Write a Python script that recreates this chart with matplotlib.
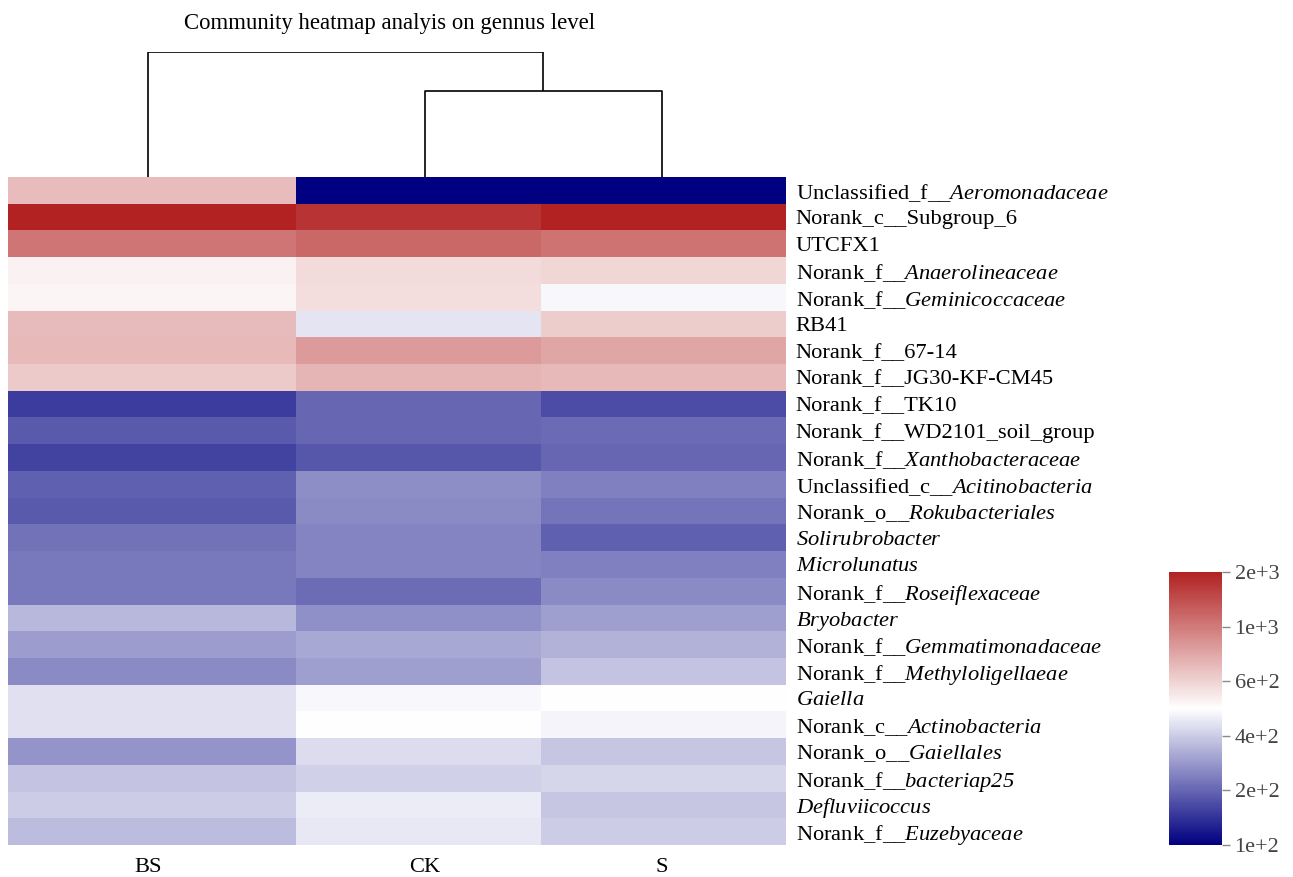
import numpy as np
import matplotlib
matplotlib.use("Agg")
import matplotlib.pyplot as plt
from matplotlib.colors import LinearSegmentedColormap, LogNorm

plt.rcParams["font.family"] = ["Liberation Serif", "DejaVu Serif"]
plt.rcParams["mathtext.fontset"] = "custom"
plt.rcParams["mathtext.rm"] = "Liberation Serif"
plt.rcParams["mathtext.it"] = "Liberation Serif:italic"
plt.rcParams["mathtext.sf"] = "Liberation Serif:italic"

# ---------------- data ----------------
samples = ["BS", "CK", "S"]
label_plain = [
    "Unclassified_f__", "Norank_c__Subgroup_6", "UTCFX1", "Norank_f__",
    "Norank_f__", "RB41", "Norank_f__67-14", "Norank_f__JG30-KF-CM45",
    "Norank_f__TK10", "Norank_f__WD2101_soil_group", "Norank_f__",
    "Unclassified_c__", "Norank_o__", "", "", "Norank_f__", "",
    "Norank_f__", "Norank_f__", "", "Norank_c__", "Norank_o__",
    "Norank_f__", "", "Norank_f__",
]
label_italic = [
    "Aeromonadaceae", "", "", "Anaerolineaceae", "Geminicoccaceae", "", "",
    "", "", "", "Xanthobacteraceae", "Acitinobacteria", "Rokubacteriales",
    "Solirubrobacter", "Microlunatus", "Roseiflexaceae", "Bryobacter",
    "Gemmatimonadaceae", "Methyloligellaeae", "Gaiella", "Actinobacteria",
    "Gaiellales", "bacteriap25", "Defluviicoccus", "Euzebyaceae",
]
BS = [701, 1775, 1072, 510, 497, 711, 720, 648, 172, 201, 177, 207, 201,
      227, 233, 233, 325, 281, 256, 402, 402, 270, 347, 361, 334]
CK = [125, 1596, 1161, 582, 575, 409, 867, 739, 213, 213, 196, 263, 256,
      249, 249, 221, 266, 300, 285, 453, 467, 391, 371, 429, 418]
S = [125, 1775, 1100, 598, 454, 639, 801, 720, 186, 218, 213, 243, 230,
     207, 243, 256, 285, 316, 347, 471, 447, 352, 381, 352, 361]
cbar_labels = ["1e+2", "2e+2", "4e+2", "6e+2", "1e+3", "2e+3"]
# dendrogram merge heights (relative): CK+S, then BS+(CK,S)
merge_heights = [0.69, 1.0]

# ---------------- layout ----------------
W, H = 1293, 877
fig = plt.figure(figsize=(W / 100, H / 100), dpi=100)

col_widths = [288, 245, 245]
xedges = np.concatenate([[0], np.cumsum(col_widths)])
xcent = (xedges[:-1] + xedges[1:]) / 2
leaf_x = xcent + np.array([-4, 6, -2])
nrow = len(BS)
data = np.array([BS, CK, S]).T

cmap = LinearSegmentedColormap.from_list("nwr", ["#000080", "#FFFFFF", "#B22222"])
vmin, vmax = 125, 1775
norm = LogNorm(vmin=vmin, vmax=vmax)

ax = fig.add_axes([8 / W, 32 / H, 778 / W, 668 / H])
mesh = ax.pcolormesh(xedges, np.arange(nrow + 1), data, cmap=cmap, norm=norm)
ax.set_xlim(xedges[0], xedges[-1])
ax.set_ylim(nrow, 0)
for sp in ax.spines.values():
    sp.set_visible(False)

labels = []
for p, it in zip(label_plain, label_italic):
    labels.append(p + (r"$\mathsf{" + it + "}$" if it else ""))
ax.yaxis.tick_right()
ax.set_yticks(np.arange(nrow) + 0.5)
ax.set_yticklabels(labels, fontsize=16.2)
ax.tick_params(axis="y", length=0, pad=7)
ax.set_xticks(leaf_x)
ax.set_xticklabels(samples, fontsize=16.2)
ax.tick_params(axis="x", length=0, pad=9)

# dendrogram
axd = fig.add_axes([8 / W, 700 / H, 778 / W, 125 / H])
axd.set_xlim(xedges[0], xedges[-1])
axd.set_ylim(0, 1)
axd.axis("off")
h1, h2 = merge_heights
mid = (leaf_x[1] + leaf_x[2]) / 2
kw = dict(color="black", lw=1.2, solid_capstyle="butt")
axd.plot([leaf_x[1], leaf_x[1], leaf_x[2], leaf_x[2]], [0, h1, h1, 0], **kw)
axd.plot([leaf_x[0], leaf_x[0], mid, mid], [0, h2, h2, h1], **kw)

fig.text(390 / W, 1 - 23 / H, "Community heatmap analyis on gennus level",
         ha="center", va="center", fontsize=16.4)

# colorbar
cax = fig.add_axes([1169 / W, 32 / H, 53 / W, 273 / H])
cb = fig.colorbar(mesh, cax=cax)
cb.outline.set_visible(False)
cb.ax.minorticks_off()
ticks = np.geomspace(vmin, vmax, len(cbar_labels))
cb.set_ticks(ticks)
cb.set_ticklabels(cbar_labels)
cb.ax.tick_params(length=6, width=1, color="#888888", labelsize=16,
                  labelcolor="#444444", pad=3)

fig.savefig("out.png", dpi=100)
